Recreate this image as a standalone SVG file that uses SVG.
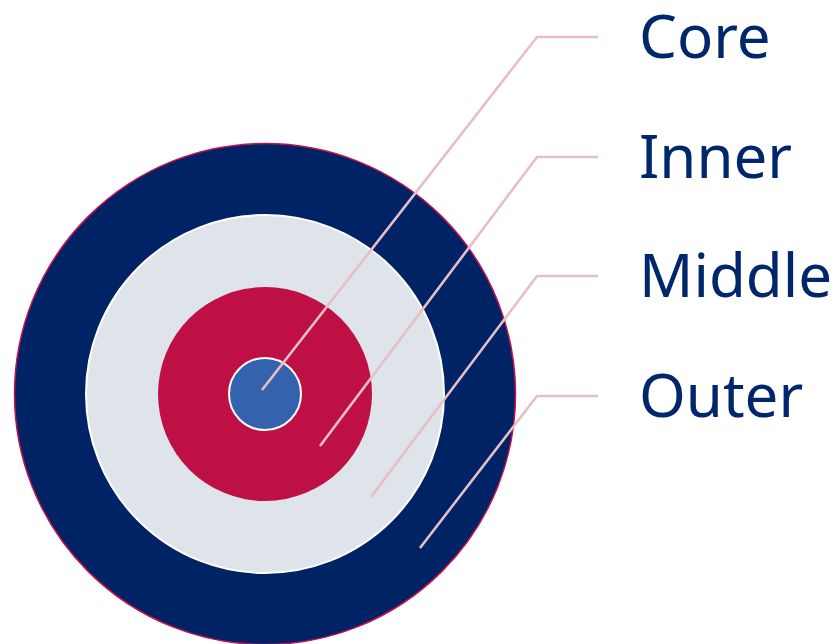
<svg xmlns="http://www.w3.org/2000/svg" width="840" height="644" viewBox="0 0 840 644">
<style>
.lbl{font-family:"Noto Sans","Open Sans",sans-serif;font-size:60px;fill:#00266b}
.lead{fill:none;stroke:#e6bfc5;stroke-width:2.6}
</style>
<rect width="840" height="644" fill="#ffffff"/>
<g id="outer"><circle cx="265" cy="394" r="250.5" fill="#002366" stroke="#c8104a" stroke-width="1.5"/></g>
<g id="middle"><circle cx="265" cy="394" r="179" fill="#dee4ea" stroke="#ffffff" stroke-width="2"/></g>
<g id="inner"><circle cx="265" cy="394" r="107" fill="#be1045"/></g>
<g id="core"><circle cx="265" cy="394" r="36" fill="#3562ac" stroke="#ffffff" stroke-width="2"/></g>
<g id="connectors">
<polyline class="lead" points="262,390 537,37 598,37"/>
<polyline class="lead" points="320,446 537,157 598,157"/>
<polyline class="lead" points="371,497 537,276 598,276"/>
<polyline class="lead" points="420,548 537,396 598,396"/>
</g>
<g id="labels">
<text class="lbl" x="639" y="58">Core</text>
<text class="lbl" x="639" y="178">Inner</text>
<text class="lbl" x="639" y="297">Middle</text>
<text class="lbl" x="639" y="417">Outer</text>
</g>
</svg>
